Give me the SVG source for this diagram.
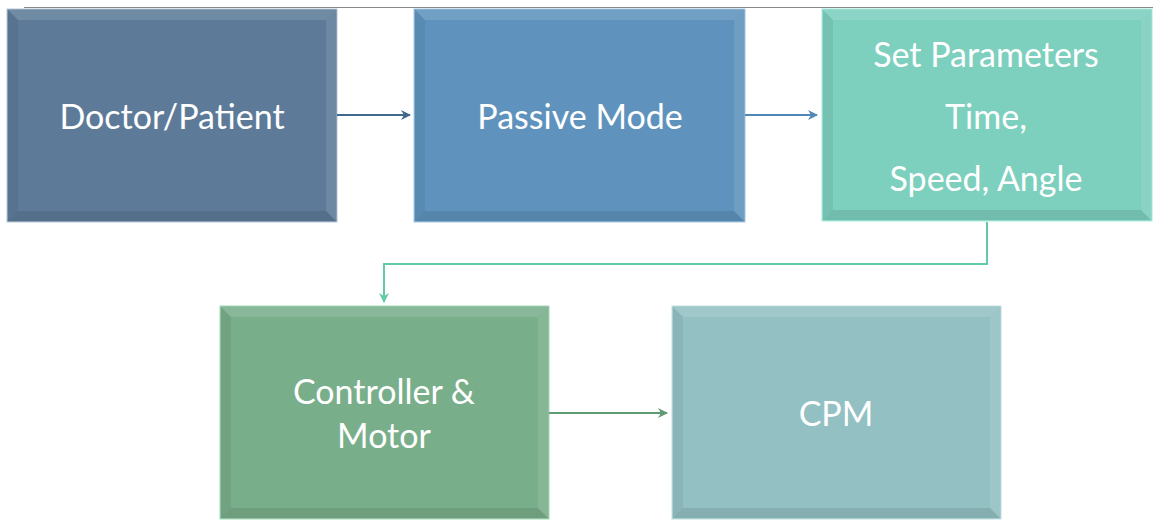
<svg xmlns="http://www.w3.org/2000/svg" width="1153" height="520" viewBox="0 0 1153 520">
  <style>
    .lbl { font-family: Lato, "Open Sans", "Liberation Sans", sans-serif; font-size: 34px; fill: #ffffff; text-anchor: middle; dominant-baseline: central; }
    .hi { fill: #ffffff; opacity: 0.12; }
    .hr { fill: #ffffff; opacity: 0.10; }
    .lo { fill: #000000; opacity: 0.06; }
    .lb { fill: #000000; opacity: 0.09; }
    .edge { fill: none; stroke-width: 2; }
  </style>
  <defs>
    <marker id="ah-navy" viewBox="0 0 10 10" refX="9" refY="5" markerWidth="5" markerHeight="5" orient="auto"><path d="M0,0 L10,5 L0,10 L3,5 Z" fill="#3f6a8e"/></marker>
    <marker id="ah-blue" viewBox="0 0 10 10" refX="9" refY="5" markerWidth="5" markerHeight="5" orient="auto"><path d="M0,0 L10,5 L0,10 L3,5 Z" fill="#4f87b9"/></marker>
    <marker id="ah-teal" viewBox="0 0 10 10" refX="9" refY="5" markerWidth="5" markerHeight="5" orient="auto"><path d="M0,0 L10,5 L0,10 L3,5 Z" fill="#63c9ad"/></marker>
    <marker id="ah-green" viewBox="0 0 10 10" refX="9" refY="5" markerWidth="5" markerHeight="5" orient="auto"><path d="M0,0 L10,5 L0,10 L3,5 Z" fill="#5e9b72"/></marker>
  </defs>

  <rect width="1153" height="520" fill="#ffffff"/>
  <line x1="24" y1="7.5" x2="1153" y2="7.5" stroke="#8a8a8a" stroke-width="1"/>

  <!-- Doctor/Patient -->
  <g id="node-doctor">
    <rect x="7" y="9" width="330" height="213" fill="#5d7b98" stroke="#b9c7d6" stroke-width="1"/>
    <polygon class="hi" points="8,10 336,10 326,20 18,20"/>
    <polygon class="lo" points="8,10 18,20 18,211 8,221"/>
    <polygon class="hr" points="336,10 336,221 326,211 326,20"/>
    <polygon class="lb" points="8,221 18,211 326,211 336,221"/>
    <text class="lbl" x="172" y="115">Doctor/Patient</text>
  </g>

  <!-- Passive Mode -->
  <g id="node-passive">
    <rect x="414" y="9" width="331" height="213" fill="#5f93bd" stroke="#a9c8e6" stroke-width="1"/>
    <polygon class="hi" points="415,10 744,10 734,20 425,20"/>
    <polygon class="lo" points="415,10 425,20 425,211 415,221"/>
    <polygon class="hr" points="744,10 744,221 734,211 734,20"/>
    <polygon class="lb" points="415,221 425,211 734,211 744,221"/>
    <text class="lbl" x="580" y="115">Passive Mode</text>
  </g>

  <!-- Set Parameters -->
  <g id="node-params">
    <rect x="822" y="9" width="330" height="212" fill="#7dcfbe" stroke="#a8ead9" stroke-width="1"/>
    <polygon class="hi" points="823,10 1151,10 1141,20 833,20"/>
    <polygon class="lo" points="823,10 833,20 833,210 823,220"/>
    <polygon class="hr" points="1151,10 1151,220 1141,210 1141,20"/>
    <polygon class="lb" points="823,220 833,210 1141,210 1151,220"/>
    <text class="lbl" x="986" y="53">Set Parameters</text>
    <text class="lbl" x="986" y="115">Time,</text>
    <text class="lbl" x="986" y="177">Speed, Angle</text>
  </g>

  <!-- Controller & Motor -->
  <g id="node-controller">
    <rect x="220" y="306" width="329" height="213" fill="#79ae8b" stroke="#a6dcb8" stroke-width="1"/>
    <polygon class="hi" points="221,307 548,307 538,317 231,317"/>
    <polygon class="lo" points="221,307 231,317 231,508 221,518"/>
    <polygon class="hr" points="548,307 548,518 538,508 538,317"/>
    <polygon class="lb" points="221,518 231,508 538,508 548,518"/>
    <text class="lbl" x="384" y="390">Controller &amp;</text>
    <text class="lbl" x="384" y="434">Motor</text>
  </g>

  <!-- CPM -->
  <g id="node-cpm">
    <rect x="672" y="306" width="329" height="213" fill="#93c0c3" stroke="#c0dfe2" stroke-width="1"/>
    <polygon class="hi" points="673,307 1000,307 990,317 683,317"/>
    <polygon class="lo" points="673,307 683,317 683,508 673,518"/>
    <polygon class="hr" points="1000,307 1000,518 990,508 990,317"/>
    <polygon class="lb" points="673,518 683,508 990,508 1000,518"/>
    <text class="lbl" x="836" y="412">CPM</text>
  </g>

  <!-- connectors -->
  <g id="connectors">
    <path class="edge" d="M337,115 H410" stroke="#3f6a8e" marker-end="url(#ah-navy)"/>
    <path class="edge" d="M745,115 H817" stroke="#4f87b9" marker-end="url(#ah-blue)"/>
    <path class="edge" d="M987,222 V264 H384 V302" stroke="#63c9ad" marker-end="url(#ah-teal)"/>
    <path class="edge" d="M549,413 H667" stroke="#5e9b72" marker-end="url(#ah-green)"/>
  </g>
</svg>
